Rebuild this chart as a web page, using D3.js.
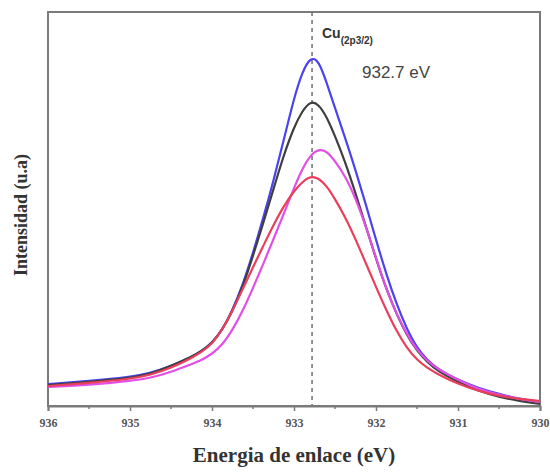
<!DOCTYPE html>
<html>
<head>
<meta charset="utf-8">
<script src="https://cdn.jsdelivr.net/npm/d3@7"></script>
<style>
  body { margin: 0; background: #fff; }
  svg { display: block; }
</style>
</head>
<body>
<svg id="chart" width="550" height="472"></svg>
<script>
// binding energy grid (eV)
const energies = [936, 935.5, 935, 934.75, 934.5, 934.25, 934.125, 934, 933.875, 933.75, 933.625, 933.5, 933.375, 933.25, 933.125, 933, 932.9, 932.8, 932.7, 932.6, 932.5, 932.375, 932.25, 932.125, 932, 931.875, 931.75, 931.625, 931.5, 931.375, 931.25, 931, 930.75, 930.5, 930.25, 930];

// intensities (a.u.)
const blueSeries = [22, 25, 29, 33, 40, 49, 55, 63, 76, 96, 121, 153, 188, 225, 266, 308, 334, 349, 346, 323, 298, 268, 236, 202, 166, 132, 102, 77, 58, 46, 37, 26, 18, 12, 7, 4];
const blackSeries = [21, 24, 28, 32, 40, 49, 55, 63, 76, 95, 119, 150, 183, 217, 251, 279, 295, 305, 302, 289, 270, 244, 213, 180, 147, 117, 92, 71, 55, 44, 35, 24, 15, 9, 5, 2];
const magentaSeries = [19, 21, 25, 28, 34, 42, 46, 52, 61, 76, 95, 118, 142, 167, 192, 218, 237, 251, 257, 255, 245, 230, 208, 180, 148, 117, 92, 72, 56, 45, 37, 26, 17, 11, 7, 4];
const redSeries = [20, 23, 27, 31, 38, 48, 54, 62, 76, 95, 117, 139, 160, 181, 200, 215, 224, 230, 228, 220, 207, 189, 167, 143, 119, 96, 75, 58, 46, 38, 32, 22, 15, 10, 7, 5];

const series = [
  { name: "blue", values: blueSeries, color: "#4b43ee" },
  { name: "black", values: blackSeries, color: "#3f3f3f" },
  { name: "magenta", values: magentaSeries, color: "#e24ee6" },
  { name: "red", values: redSeries, color: "#ea3f5c" },
];

const majorTicks = [936, 935, 934, 933, 932, 931, 930];
const minorTicks = [935.5, 934.5, 933.5, 932.5, 931.5, 930.5];
const peakPosition = 932.78;

const margin = { top: 12, right: 10, bottom: 66, left: 48 };
const width = 550;
const height = 472;

const svg = d3.select("#chart");

const x = d3.scaleLinear()
  .domain([936, 930])
  .range([margin.left, width - margin.right]);

const y = d3.scaleLinear()
  .domain([0, 394])
  .range([height - margin.bottom, margin.top]);

const axisColor = "#7a7a7a";

// frame
svg.append("rect")
  .attr("x", margin.left)
  .attr("y", margin.top)
  .attr("width", width - margin.left - margin.right)
  .attr("height", height - margin.top - margin.bottom)
  .attr("fill", "none")
  .attr("stroke", axisColor)
  .attr("stroke-width", 2);

// dashed reference line
svg.append("line")
  .attr("x1", x(peakPosition))
  .attr("x2", x(peakPosition))
  .attr("y1", margin.top)
  .attr("y2", height - margin.bottom)
  .attr("stroke", "#777")
  .attr("stroke-width", 1.6)
  .attr("stroke-dasharray", "4,4");

const line = d3.line()
  .x((d, i) => x(energies[i]))
  .y((d) => y(d))
  .curve(d3.curveBasis);

svg.append("g")
  .selectAll("path")
  .data(series)
  .join("path")
  .attr("d", (s) => line(s.values))
  .attr("fill", "none")
  .attr("stroke", (s) => s.color)
  .attr("stroke-width", 2.2);

// x axis
const xAxis = svg.append("g")
  .attr("transform", `translate(0,${height - margin.bottom})`)
  .call(d3.axisBottom(x).tickValues(majorTicks).tickFormat(d3.format("d")).tickSize(5));
xAxis.select(".domain").attr("stroke", axisColor).attr("stroke-width", 2);
xAxis.selectAll(".tick line").attr("stroke", axisColor).attr("stroke-width", 1.5);
xAxis.selectAll(".tick text")
  .attr("font-family", "'Liberation Serif', serif")
  .attr("font-weight", "bold")
  .attr("font-size", 12)
  .attr("fill", "#555")
  .attr("dy", "1.1em");

svg.append("g")
  .attr("transform", `translate(0,${height - margin.bottom})`)
  .selectAll("line")
  .data(minorTicks)
  .join("line")
  .attr("x1", (d) => x(d))
  .attr("x2", (d) => x(d))
  .attr("y1", 0)
  .attr("y2", 3)
  .attr("stroke", axisColor)
  .attr("stroke-width", 1.5);

// axis titles
svg.append("text")
  .attr("x", (margin.left + width - margin.right) / 2)
  .attr("y", 462)
  .attr("text-anchor", "middle")
  .attr("font-family", "'Liberation Serif', serif")
  .attr("font-weight", "bold")
  .attr("font-size", 21)
  .attr("fill", "#333")
  .text("Energia de enlace (eV)");

svg.append("text")
  .attr("transform", "translate(27,215) rotate(-90)")
  .attr("text-anchor", "middle")
  .attr("font-family", "'Liberation Serif', serif")
  .attr("font-weight", "bold")
  .attr("font-size", 18)
  .attr("fill", "#333")
  .text("Intensidad (u.a)");

// annotation
const label = svg.append("text")
  .attr("x", 322)
  .attr("y", 38)
  .attr("font-family", "'Liberation Sans', Arial, sans-serif")
  .attr("font-weight", "bold")
  .attr("font-size", 14)
  .attr("fill", "#333");
label.append("tspan").text("Cu");
label.append("tspan")
  .attr("dy", 6)
  .attr("font-size", 10)
  .text("(2p3/2)");

svg.append("text")
  .attr("x", 362)
  .attr("y", 78)
  .attr("font-family", "'Liberation Sans', Arial, sans-serif")
  .attr("font-size", 17)
  .attr("fill", "#444")
  .text("932.7 eV");
</script>
</body>
</html>
